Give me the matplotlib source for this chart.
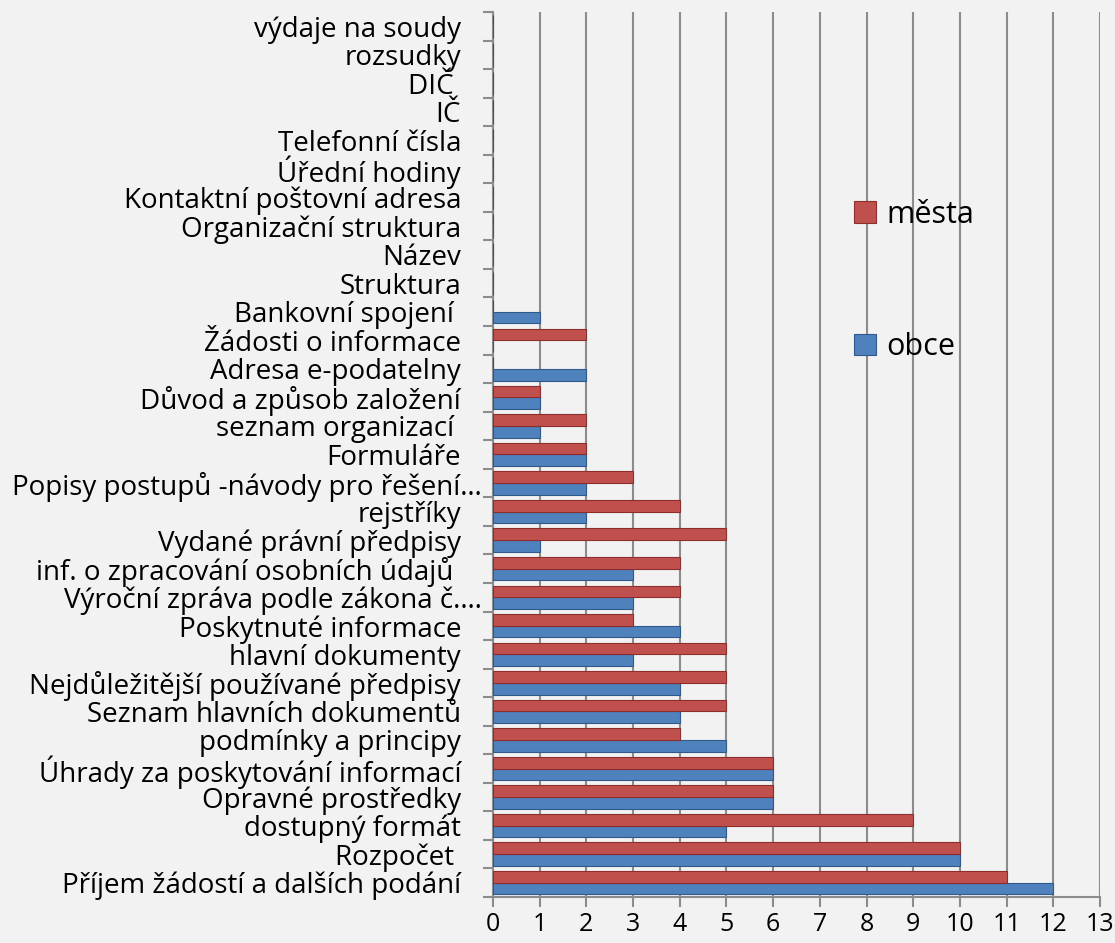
import numpy as np
import matplotlib
matplotlib.use('Agg')
import matplotlib.pyplot as plt
import matplotlib.transforms as mtransforms

plt.rcParams['font.family'] = ['Open Sans', 'DejaVu Sans']

# categories listed bottom to top
categories = [
    'Příjem žádostí a dalších podání',
    'Rozpočet ',
    'dostupný formát',
    'Opravné prostředky',
    'Úhrady za poskytování informací',
    'podmínky a principy',
    'Seznam hlavních dokumentů',
    'Nejdůležitější používané předpisy',
    'hlavní dokumenty',
    'Poskytnuté informace',
    'Výroční zpráva podle zákona č.…',
    'inf. o zpracování osobních údajů ',
    'Vydané právní předpisy',
    'rejstříky',
    'Popisy postupů -návody pro řešení…',
    'Formuláře',
    'seznam organizací ',
    'Důvod a způsob založení',
    'Adresa e-podatelny',
    'Žádosti o informace',
    'Bankovní spojení ',
    'Struktura',
    'Název',
    'Organizační struktura',
    'Kontaktní poštovní adresa',
    'Úřední hodiny',
    'Telefonní čísla',
    'IČ',
    'DIČ ',
    'rozsudky',
    'výdaje na soudy',
]
obce = [12, 10, 5, 6, 6, 5, 4, 4, 3, 4, 3, 3, 1, 2, 2, 2, 1, 1, 2, 0, 1,
        0, 0, 0, 0, 0, 0, 0, 0, 0, 0]
mesta = [11, 10, 9, 6, 6, 4, 5, 5, 5, 3, 4, 4, 5, 4, 3, 2, 2, 1, 0, 2, 0,
         0, 0, 0, 0, 0, 0, 0, 0, 0, 0]
x_ticks = list(range(0, 14))

bg = '#f2f2f2'
grid_c = '#8c8c8c'
red = '#c0504d'
blue = '#4f81bd'

fig = plt.figure(figsize=(11.15, 9.43), dpi=100, facecolor=bg)
ax = fig.add_axes([493 / 1115, 1 - 897 / 943, 607 / 1115, 885 / 943])
ax.set_facecolor(bg)

y = np.arange(len(categories))
h = 0.41
b_obce = ax.barh(y - h / 2, obce, height=h, color=blue, edgecolor='#2f5a8c',
                 linewidth=0.8, label='obce', zorder=3)
b_mesta = ax.barh(y + h / 2, mesta, height=h, color=red, edgecolor='#8c2f2c',
                  linewidth=0.8, label='města', zorder=3)

ax.set_xlim(0, 13)
ax.set_ylim(-0.5, len(categories) - 0.5)
ax.set_xticks(x_ticks)
ax.set_xticklabels([str(t) for t in x_ticks], fontsize=18)
ax.grid(axis='x', color=grid_c, linewidth=1.5, zorder=0)
ax.set_axisbelow(True)

ax.set_yticks(y)
ax.set_yticklabels(categories, fontsize=20)
ax.set_yticks(np.arange(-0.5, len(categories)), minor=True)
ax.tick_params(axis='y', which='major', length=0, pad=23)
ax.tick_params(axis='y', which='minor', length=7, width=1.5, color=grid_c)
ax.tick_params(axis='x', length=7, width=1.5, color=grid_c, pad=4)

# truncated labels sit a little further right
for lab in ax.get_yticklabels():
    if lab.get_text().endswith('…'):
        lab.set_transform(lab.get_transform() +
                          mtransforms.ScaledTranslation(21 / 100, 0, fig.dpi_scale_trans))

for s in ['top', 'right']:
    ax.spines[s].set_visible(False)
for s in ['left', 'bottom']:
    ax.spines[s].set_color(grid_c)
    ax.spines[s].set_linewidth(1.5)

ax.legend(handles=[b_mesta, b_obce], labels=['města', 'obce'], frameon=False,
          loc='upper left', bbox_to_anchor=(0.595, 0.788), fontsize=22,
          handlelength=0.7, handleheight=0.7, handletextpad=0.35,
          labelspacing=3.36, borderpad=0, borderaxespad=0)

fig.savefig('out.png', dpi=100, facecolor=bg)
